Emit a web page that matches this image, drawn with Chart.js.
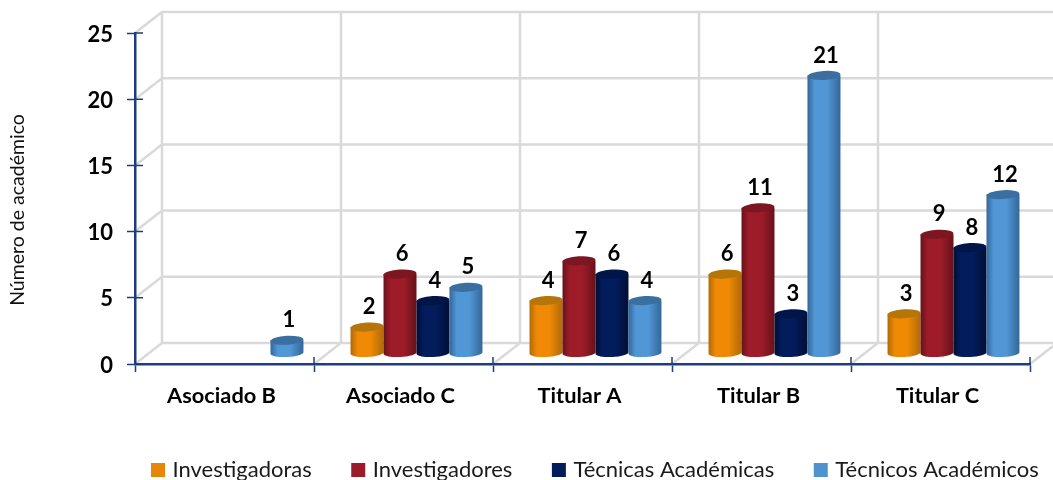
<!DOCTYPE html>
<html lang="es">
<head>
<meta charset="utf-8">
<title>Número de académico</title>
<script src="https://cdn.jsdelivr.net/npm/chart.js@4"></script>
<style>
  html, body { margin: 0; padding: 0; background: #fff; }
  #wrap { width: 1053px; height: 480px; overflow: hidden; }
</style>
</head>
<body>
<div id="wrap"><canvas id="chartAcademicos" width="1053" height="480"></canvas></div>
<script>
// DATOS
const categorias = ["Asociado B", "Asociado C", "Titular A", "Titular B", "Titular C"];
const investigadoras = [null, 2, 4, 6, 3];
const investigadores = [null, 6, 7, 11, 9];
const tecnicas = [null, 4, 6, 3, 8];
const tecnicos = [1, 5, 4, 21, 12];
const ticksY = [0, 5, 10, 15, 20, 25];
const tituloY = "Número de académico";

// base, borde oscuro, tapa
const colores = {
  naranja: ["#F08A04", "#B06A08", "#B5750A"],
  rojo: ["#9E1C2A", "#661219", "#7C1620"],
  marino: ["#021C5C", "#010E36", "#011548"],
  azul: ["#5197D5", "#33679A", "#3B6F9F"],
};

const AZUL_EJE = "#1F3C7C";
const GRIS = "#D9D9D9";
// desplazamiento de la pared del fondo y de los cilindros
const FONDO_X = 27;
const FONDO_Y = -21;
const BARRA_X = 13;
const BARRA_Y = -10.5;

function paredes(chart) {
  const { ctx, scales } = chart;
  const x = scales.x;
  const y = scales.y;
  const izq = x.left;
  const suelo = y.bottom;
  ctx.save();
  ctx.strokeStyle = GRIS;
  ctx.lineWidth = 2.5;
  ctx.beginPath();
  ticksY.forEach((t) => {
    const py = y.getPixelForValue(t);
    ctx.moveTo(izq, py);
    ctx.lineTo(izq + FONDO_X, py + FONDO_Y);
    ctx.lineTo(chart.width + 5, py + FONDO_Y);
  });
  for (let i = 0; i <= categorias.length; i++) {
    const px = izq + (i * x.width) / categorias.length;
    ctx.moveTo(px, suelo);
    ctx.lineTo(px + FONDO_X, suelo + FONDO_Y);
    ctx.lineTo(px + FONDO_X, y.top + FONDO_Y);
  }
  ctx.stroke();

  // parte interior de las marcas del eje
  ctx.strokeStyle = AZUL_EJE;
  ctx.lineWidth = 1.5;
  ctx.beginPath();
  ticksY.forEach((t) => {
    const py = y.getPixelForValue(t);
    ctx.moveTo(izq, py);
    ctx.lineTo(izq + 8, py);
  });
  for (let i = 0; i <= categorias.length; i++) {
    const px = izq + (i * x.width) / categorias.length;
    ctx.moveTo(px, suelo);
    ctx.lineTo(px, suelo - 7);
  }
  ctx.stroke();

  // título del eje, va más abajo que el centro del eje
  ctx.translate(18, 210);
  ctx.rotate(-Math.PI / 2);
  ctx.fillStyle = "#111";
  ctx.font = "19.5px Lato";
  ctx.textAlign = "center";
  ctx.textBaseline = "middle";
  ctx.fillText(tituloY, 0, 0);
  ctx.restore();
}

function cilindro(ctx, barra, color) {
  const x0 = barra.x - barra.width / 2 + BARRA_X;
  const x1 = x0 + barra.width;
  const cx = (x0 + x1) / 2;
  const rx = barra.width / 2;
  const arriba = barra.y + BARRA_Y;
  const abajo = barra.base + BARRA_Y;

  const g = ctx.createLinearGradient(x0, 0, x1, 0);
  g.addColorStop(0, color[1]);
  g.addColorStop(0.22, color[0]);
  g.addColorStop(0.6, color[0]);
  g.addColorStop(1, color[1]);

  ctx.fillStyle = g;
  ctx.beginPath();
  ctx.moveTo(x0, arriba);
  ctx.lineTo(x0, abajo);
  ctx.ellipse(cx, abajo, rx, 4, -0.05, Math.PI, 0, true);
  ctx.lineTo(x1, arriba);
  ctx.closePath();
  ctx.fill();

  ctx.fillStyle = color[2];
  ctx.beginPath();
  ctx.ellipse(cx, arriba, rx, 4.5, -0.06, 0, Math.PI * 2);
  ctx.fill();
}

const cilindros3d = {
  id: "cilindros3d",
  beforeDraw(chart) {
    paredes(chart);
  },
  // el cilindro lo pinta beforeDatasetsDraw, se cancela la barra plana
  beforeDatasetDraw() {
    return false;
  },
  beforeDatasetsDraw(chart) {
    const ctx = chart.ctx;
    ctx.save();
    chart.data.datasets.forEach((ds, i) => {
      chart.getDatasetMeta(i).data.forEach((barra, j) => {
        if (ds.data[j] === null) return;
        cilindro(ctx, barra, ds.colorCilindro);
      });
    });
    // etiquetas de valor
    ctx.fillStyle = "#000";
    ctx.font = "bold 22px Lato";
    ctx.textAlign = "center";
    ctx.textBaseline = "middle";
    chart.data.datasets.forEach((ds, i) => {
      chart.getDatasetMeta(i).data.forEach((barra, j) => {
        if (ds.data[j] === null) return;
        ctx.fillText(ds.data[j], barra.x + BARRA_X + 2, barra.y + BARRA_Y - 20);
      });
    });
    ctx.restore();
  },
  // leyenda desplazada como en el original, right grande para que no parta la fila
  afterLayout(chart) {
    chart.legend.left = 111.5;
    chart.legend.right = 1400;
    chart.legend.top = 416;
  },
};

new Chart(document.getElementById("chartAcademicos"), {
  type: "bar",
  plugins: [cilindros3d],
  data: {
    labels: categorias,
    datasets: [
      // el borde solo engorda el cuadro de la leyenda
      { label: "Investigadoras", data: investigadoras, backgroundColor: "#E8860A", borderColor: "#E8860A", borderWidth: 7, colorCilindro: colores.naranja },
      { label: "Investigadores", data: investigadores, backgroundColor: "#9A1B2A", borderColor: "#9A1B2A", borderWidth: 7, colorCilindro: colores.rojo },
      { label: "Técnicas Académicas", data: tecnicas, backgroundColor: "#021C5C", borderColor: "#021C5C", borderWidth: 7, colorCilindro: colores.marino },
      { label: "Técnicos Académicos", data: tecnicos, backgroundColor: "#4F93CE", borderColor: "#4F93CE", borderWidth: 7, colorCilindro: colores.azul },
    ],
  },
  options: {
    responsive: false,
    animation: false,
    layout: { padding: { top: 33, right: 23, left: 0, bottom: 0 } },
    datasets: { bar: { categoryPercentage: 0.737, barPercentage: 1 } },
    scales: {
      x: {
        afterFit(s) {
          s.height = 116 - s.chart.legend.height;
        },
        border: { color: AZUL_EJE, width: 2.5 },
        grid: { drawOnChartArea: false, color: AZUL_EJE, tickColor: AZUL_EJE, tickLength: 8, tickWidth: 1.5 },
        ticks: { color: "#000", font: { family: "Lato", weight: "bold", size: 21.8 }, padding: 11, labelOffset: -3, maxRotation: 0 },
      },
      y: {
        min: 0,
        max: 25,
        afterFit(s) {
          s.width = 135;
        },
        afterBuildTicks(s) {
          s.ticks = ticksY.map((v) => ({ value: v }));
        },
        border: { color: AZUL_EJE, width: 2.5 },
        grid: { drawOnChartArea: false, tickColor: AZUL_EJE, tickLength: 8, tickWidth: 1.5 },
        ticks: { color: "#000", font: { family: "Lato", weight: "bold", size: 22 }, padding: 14, labelOffset: 1.5 },
      },
    },
    plugins: {
      tooltip: { enabled: false },
      legend: {
        position: "bottom",
        align: "start",
        labels: {
          boxWidth: 7,
          boxHeight: 7,
          padding: 43,
          color: "#1a1a1a",
          font: { family: "Lato", size: 22 },
        },
      },
    },
  },
});
</script>
</body>
</html>
